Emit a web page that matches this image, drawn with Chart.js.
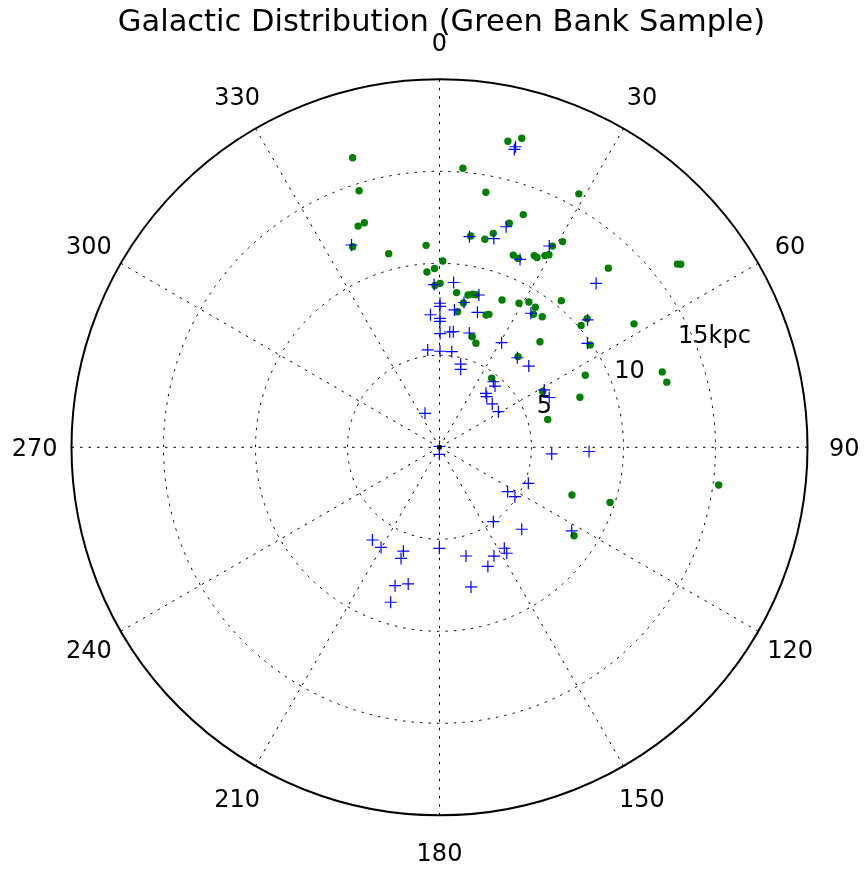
<!DOCTYPE html>
<html>
<head>
<meta charset="utf-8">
<script src="https://cdn.jsdelivr.net/npm/chart.js@4.4.1/dist/chart.umd.min.js"></script>
<style>
  html, body { margin: 0; padding: 0; background: #fff; }
  canvas { display: block; }
</style>
</head>
<body>
<canvas id="polarChart" width="867" height="872"></canvas>
<script>
    // galactic longitude (deg) and distance (kpc) of each source
    var greenTheta = [343.3, 4.8, 342.6, 339.8, 341.5, 336.6, 345.3, 356.2, 1.0, 358.4,
        355.9, 8.4, 12.6, 14.9, 10.3, 28.8, 19.8, 17.3, 14.1, 12.3,
        30.9, 29.3, 21.0, 22.6, 26.3, 27.2, 28.8, 29.6, 43.3, 52.4,
        52.8, 57.6, 71.3, 74.0, 358.4, 0.2, 6.3, 10.6, 12.2, 13.5,
        9.4, 7.6, 16.5, 19.3, 23.0, 28.9, 31.6, 34.4, 35.2, 38.2,
        39.7, 19.4, 20.4, 49.3, 48.9, 55.8, 43.6, 40.9, 37.1, 63.7,
        70.4, 75.6, 61.6, 109.8, 107.9, 123.3, 97.7];
    var greenR = [16.43, 15.22, 14.61, 12.81, 12.87, 11.88, 10.88, 11.0, 10.13, 9.72,
        9.55, 11.61, 17.04, 17.38, 14.09, 15.72, 13.44, 12.75, 11.99, 11.57,
        13.03, 12.54, 11.19, 11.12, 11.62, 11.60, 11.89, 12.04, 13.38, 16.32,
        16.46, 12.52, 12.78, 12.85, 8.80, 8.91, 8.46, 8.42, 8.51, 8.53,
        7.95, 7.43, 6.27, 5.99, 8.70, 8.94, 9.27, 9.22, 8.85, 9.03,
        10.36, 7.62, 7.71, 10.15, 10.64, 9.90, 7.92, 6.52, 4.70, 8.84,
        8.10, 6.07, 6.38, 7.65, 9.74, 8.75, 15.31];

    var blueTheta = [336.5, 8.1, 14.2, 14.1, 16.8, 14.6, 28.6, 23.2, 43.7, 358.1,
        4.9, 14.5, 9.6, 0.2, 0.2, 6.2, 356.1, 15.7, 0.2, 0.2,
        5.1, 6.8, 14.6, 0.3, 353.1, 0.3, 7.3, 14.3, 15.2, 336.9,
        0.0, 181.7, 34.3, 49.3, 54.9, 30.7, 41.0, 47.7, 39.4, 42.2,
        40.7, 43.0, 50.6, 58.8, 61.3, 65.6, 93.4, 91.6, 215.9, 210.3,
        199.2, 199.1, 180.1, 166.3, 157.9, 197.8, 192.9, 167.3, 197.5, 112.1,
        123.1, 123.2, 144.1, 134.9, 122.3, 147.3, 147.6, 153.4];
    var blueR = [11.99, 11.56, 16.85, 16.69, 12.52, 11.72, 12.46, 11.11, 12.32, 8.85,
        8.99, 8.55, 7.98, 7.83, 7.66, 7.51, 7.22, 7.62, 7.01, 6.84,
        6.29, 6.33, 6.42, 6.18, 5.33, 5.22, 5.24, 4.66, 4.39, 2.01,
        0.05, 0.38, 8.82, 10.62, 9.83, 6.61, 6.45, 6.56, 4.61, 4.49,
        3.87, 3.76, 3.71, 3.74, 6.49, 6.55, 6.11, 8.13, 6.22, 6.30,
        5.97, 6.39, 5.49, 6.08, 6.99, 7.90, 7.62, 7.78, 8.83, 5.21,
        4.42, 4.90, 4.99, 6.31, 8.50, 6.52, 6.82, 6.61];

    // the Sun at the origin
    var sunTheta = [0];
    var sunR = [0];

    var angleTicks = [0, 30, 60, 90, 120, 150, 180, 210, 240, 270, 300, 330];
    var radialTicks = [5, 10, 15];
    var radialLabels = ['5', '10', '15kpc'];
    var rMax = 20;

    // longitude 0 points up and increases clockwise
    function toXY(theta, r) {
        var pts = [];
        for (var i = 0; i < theta.length; i++) {
            var a = theta[i] * Math.PI / 180;
            pts.push({x: r[i] * Math.sin(a), y: r[i] * Math.cos(a)});
        }
        return pts;
    }

    var FONT = '"DejaVu Sans", sans-serif';

    // polar frame: dotted rings and spokes, outer circle, labels, title
    var polarGrid = {
        id: 'polarGrid',
        beforeDatasetsDraw: function(chart) {
            var ctx = chart.ctx;
            var xs = chart.scales.x, ys = chart.scales.y;
            var cx = xs.getPixelForValue(0), cy = ys.getPixelForValue(0);
            var R = xs.getPixelForValue(rMax) - cx;

            ctx.save();
            ctx.strokeStyle = '#000';
            ctx.lineWidth = 1;
            ctx.setLineDash([2.5, 6]);
            radialTicks.forEach(function(r) {
                var rp = xs.getPixelForValue(r) - cx;
                ctx.beginPath();
                ctx.arc(cx, cy, rp, 0, Math.PI * 2);
                ctx.stroke();
            });
            angleTicks.forEach(function(t) {
                var a = t * Math.PI / 180;
                ctx.beginPath();
                ctx.moveTo(cx, cy);
                ctx.lineTo(cx + R * Math.sin(a), cy - R * Math.cos(a));
                ctx.stroke();
            });

            ctx.setLineDash([]);
            ctx.lineWidth = 2;
            ctx.beginPath();
            ctx.arc(cx, cy, R, 0, Math.PI * 2);
            ctx.stroke();

            ctx.fillStyle = '#000';
            ctx.textAlign = 'center';
            ctx.textBaseline = 'alphabetic';
            ctx.font = '24px ' + FONT;
            angleTicks.forEach(function(t) {
                var a = t * Math.PI / 180;
                var lx = cx + 1.1 * R * Math.sin(a);
                var ly = cy - 1.1 * R * Math.cos(a);
                ctx.fillText(String(t), lx, ly + 8.7);
            });

            var la = 67.5 * Math.PI / 180;
            radialTicks.forEach(function(r, i) {
                var rp = xs.getPixelForValue(r) - cx;
                var lx = cx + rp * Math.sin(la) + 20;
                var ly = cy - rp * Math.cos(la) - 7.5;
                ctx.fillText(radialLabels[i], lx, ly + 8.7);
            });

            ctx.font = '30.5px ' + FONT;
            ctx.fillText('Galactic Distribution (Green Bank Sample)', cx + 2, 31);
            ctx.restore();
        }
    };

    var ctx = document.getElementById('polarChart').getContext('2d');
    var chart = new Chart(ctx, {
        type: 'scatter',
        data: {
            datasets: [
                {
                    label: 'Sun',
                    data: toXY(sunTheta, sunR),
                    pointStyle: 'rect',
                    pointRadius: 2.8,
                    backgroundColor: '#000',
                    borderColor: '#000',
                    borderWidth: 0,
                    order: 0,
                    clip: false
                },
                {
                    label: 'Blue',
                    data: toXY(blueTheta, blueR),
                    pointStyle: 'cross',
                    pointRadius: 6,
                    borderColor: '#0000ff',
                    borderWidth: 1.2,
                    order: 1,
                    clip: false
                },
                {
                    label: 'Green',
                    data: toXY(greenTheta, greenR),
                    pointStyle: 'circle',
                    pointRadius: 3.7,
                    backgroundColor: '#008000',
                    borderColor: '#008000',
                    borderWidth: 0,
                    order: 2,
                    clip: false
                }
            ]
        },
        options: {
            responsive: false,
            animation: false,
            layout: {
                padding: {left: 71.5, right: 59.5, top: 79.3, bottom: 56.7}
            },
            scales: {
                x: {type: 'linear', min: -rMax, max: rMax, display: false},
                y: {type: 'linear', min: -rMax, max: rMax, display: false}
            },
            plugins: {
                legend: {display: false},
                tooltip: {enabled: false}
            }
        },
        plugins: [polarGrid]
    });
</script>
</body>
</html>
